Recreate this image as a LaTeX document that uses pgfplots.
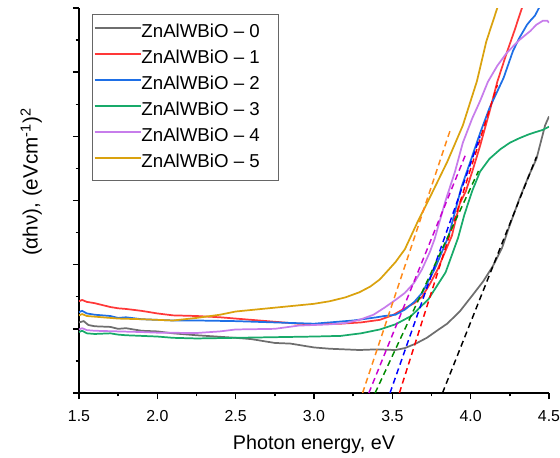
\documentclass[border=0pt]{standalone}
\usepackage{fontspec}
\setmainfont{Liberation Sans}
\usepackage{pgfplots}
\pgfplotsset{compat=1.18}
\definecolor{cgray}{HTML}{6E6E6E}
\definecolor{cred}{HTML}{FF3838}
\definecolor{cblue}{HTML}{1E6FE6}
\definecolor{cgreen}{HTML}{18AA6A}
\definecolor{cpurple}{HTML}{C77DEB}
\definecolor{corange}{HTML}{DAA20E}
\definecolor{dorange}{HTML}{FF8A1A}
\definecolor{dpurple}{HTML}{C800D0}
\definecolor{dgreen}{HTML}{008A00}
\newcommand{\pad}{\rule{13pt}{0pt}}
\begin{document}
\begin{tikzpicture}
\begin{axis}[
  scale only axis,
  width=352.5pt, height=288.75pt,
  xmin=1.5, xmax=4.5, ymin=0, ymax=6,
  axis x line*=bottom, axis y line*=left,
  axis line style={-, line width=1.1pt},
  every tick/.style={black, line width=1.1pt},
  tick align=outside,
  major tick length=4.5pt, minor tick length=2.5pt,
  xtick={1.5,2.0,2.5,3.0,3.5,4.0,4.5},
  xticklabels={1.5,2.0,2.5,3.0,3.5,4.0,4.5},
  minor x tick num=1,
  ytick={0,1,2,3,4,5,6}, yticklabels={},
  minor y tick num=1,
  xticklabel style={font=\fontsize{11.9pt}{14pt}\selectfont, anchor=base, yshift=-17pt},
  xlabel={Photon energy, eV},
  ylabel={(αhν), (eVcm\textsuperscript{-1})\textsuperscript{2}},
  xlabel style={font=\fontsize{14.8pt}{17pt}\selectfont, at={(axis description cs:0.5,-0.148)}, anchor=base},
  ylabel style={font=\fontsize{15.5pt}{17pt}\selectfont, at={(axis description cs:-0.0879,0.548)}, anchor=base},
  legend cell align=left,
  legend style={at={(axis description cs:0.0284,0.984)}, anchor=north west,
    draw=gray!80!black, line width=0.6pt, fill=white,
    font=\fontsize{14pt}{16pt}\selectfont,
    inner xsep=0.75pt, inner ysep=7pt, row sep=6.5pt,
    nodes={inner sep=0pt, text height=10pt, text depth=3pt},
    /tikz/every even column/.append style={column sep=3pt}},
  legend image code/.code={\draw[#1] (0pt,3.5pt) -- (34.5pt,3.5pt);},
  every axis plot/.append style={line width=1.3pt},
]
\addplot[cgray] coordinates {
(1.5,1.10)(1.53,1.12)(1.56,1.06)(1.6,1.04)(1.7,1.03)(1.75,1.00)(1.8,1.01)(1.9,0.97)
(2.0,0.96)(2.1,0.93)(2.25,0.90)(2.5,0.86)(2.6,0.84)(2.75,0.78)(2.85,0.77)(3.0,0.71)
(3.1,0.69)(3.29,0.67)(3.4,0.68)(3.52,0.67)(3.58,0.70)(3.65,0.77)(3.72,0.86)(3.79,0.98)
(3.85,1.08)(3.93,1.27)(4.02,1.55)(4.08,1.74)(4.14,1.97)(4.20,2.26)(4.24,2.55)(4.31,3.02)
(4.37,3.38)(4.42,3.65)(4.475,4.17)(4.5,4.31)};
\addlegendentry{ZnAlWBiO – 0\pad}
\addplot[cred] coordinates {
(1.5,1.43)(1.52,1.45)(1.55,1.42)(1.6,1.40)(1.7,1.34)(1.75,1.32)(1.8,1.31)(1.9,1.28)
(2.0,1.24)(2.1,1.21)(2.25,1.20)(2.4,1.18)(2.5,1.16)(2.6,1.14)(2.75,1.11)(2.9,1.08)
(3.0,1.07)(3.17,1.08)(3.3,1.10)(3.42,1.14)(3.50,1.21)(3.58,1.32)(3.64,1.40)(3.69,1.50)
(3.74,1.70)(3.79,1.93)(3.84,2.22)(3.88,2.45)(3.93,2.95)(3.97,3.15)(4.01,3.45)(4.06,3.85)
(4.12,4.38)(4.17,4.85)(4.23,5.30)(4.28,5.65)(4.33,6.02)(4.35,6.15)};
\addlegendentry{ZnAlWBiO – 1\pad}
\addplot[cblue] coordinates {
(1.5,1.26)(1.52,1.28)(1.55,1.24)(1.6,1.22)(1.7,1.20)(1.75,1.17)(1.8,1.18)(1.9,1.15)
(2.0,1.14)(2.1,1.13)(2.25,1.13)(2.5,1.12)(2.75,1.10)(3.0,1.08)(3.1,1.10)(3.25,1.13)
(3.4,1.18)(3.45,1.20)(3.52,1.22)(3.58,1.30)(3.64,1.42)(3.69,1.56)(3.77,1.93)(3.86,2.45)
(3.94,3.20)(4.00,3.62)(4.06,4.05)(4.12,4.44)(4.21,4.91)(4.27,5.33)(4.31,5.53)(4.36,5.74)
(4.38,5.80)(4.41,5.88)(4.44,6.02)(4.46,6.15)};
\addlegendentry{ZnAlWBiO – 2\pad}
\addplot[cgreen] coordinates {
(1.5,0.95)(1.52,0.97)(1.55,0.93)(1.6,0.92)(1.7,0.93)(1.75,0.91)(1.8,0.90)(1.9,0.89)
(2.0,0.88)(2.1,0.86)(2.25,0.85)(2.5,0.86)(2.75,0.87)(3.0,0.88)(3.17,0.89)(3.3,0.93)
(3.42,0.99)(3.52,1.07)(3.62,1.20)(3.73,1.46)(3.84,1.88)(3.92,2.42)(3.96,2.78)(4.01,3.15)
(4.06,3.45)(4.12,3.65)(4.19,3.80)(4.25,3.90)(4.31,3.97)(4.37,4.03)(4.42,4.07)(4.46,4.10)
(4.5,4.15)};
\addlegendentry{ZnAlWBiO – 3\pad}
\addplot[cpurple] coordinates {
(1.5,0.99)(1.52,1.01)(1.55,0.98)(1.6,0.97)(1.75,0.96)(1.9,0.95)(2.0,0.94)(2.25,0.935)
(2.4,0.96)(2.5,0.99)(2.75,1.00)(2.9,1.05)(3.0,1.06)(3.1,1.07)(3.2,1.09)(3.29,1.14)
(3.38,1.22)(3.45,1.33)(3.52,1.45)(3.58,1.56)(3.64,1.72)(3.69,1.93)(3.74,2.20)(3.77,2.40)
(3.84,3.00)(3.90,3.45)(3.95,3.90)(4.01,4.28)(4.06,4.55)(4.11,4.85)(4.17,5.10)(4.23,5.30)
(4.31,5.50)(4.38,5.64)(4.42,5.74)(4.46,5.80)(4.49,5.80)(4.5,5.77)};
\addlegendentry{ZnAlWBiO – 4\pad}
\addplot[corange] coordinates {
(1.5,1.21)(1.52,1.23)(1.55,1.20)(1.6,1.19)(1.75,1.16)(1.9,1.15)(2.0,1.14)(2.1,1.13)
(2.25,1.17)(2.4,1.22)(2.5,1.27)(2.75,1.33)(3.0,1.39)(3.1,1.43)(3.2,1.49)(3.29,1.57)
(3.36,1.66)(3.42,1.77)(3.45,1.85)(3.52,2.04)(3.58,2.24)(3.66,2.66)(3.73,3.00)(3.77,3.20)
(3.85,3.60)(3.95,4.17)(4.04,4.86)(4.10,5.48)(4.17,6.0)(4.19,6.15)};
\addlegendentry{ZnAlWBiO – 5\pad}
% tangent lines
\addplot[forget plot, black, line width=1.1pt, dash pattern=on 4.5pt off 3pt] coordinates {(3.82,0)(4.42,3.68)};
\addplot[forget plot, red, line width=1.1pt, dash pattern=on 4.5pt off 3pt] coordinates {(3.545,0)(4.17,4.8)};
\addplot[forget plot, blue, line width=1.1pt, dash pattern=on 4.5pt off 3pt] coordinates {(3.485,0)(4.06,4.0)};
\addplot[forget plot, dgreen, line width=1.1pt, dash pattern=on 4.5pt off 3pt] coordinates {(3.39,0)(4.05,3.46)};
\addplot[forget plot, dpurple, line width=1.1pt, dash pattern=on 4.5pt off 3pt] coordinates {(3.35,0)(3.97,3.73)};
\addplot[forget plot, dorange, line width=1.1pt, dash pattern=on 4.5pt off 3pt] coordinates {(3.31,0)(3.87,4.1)};
\end{axis}
\pgfresetboundingbox
\path (-59.25pt,-48pt) rectangle (360.75pt,294.75pt);
\end{tikzpicture}
\end{document}
